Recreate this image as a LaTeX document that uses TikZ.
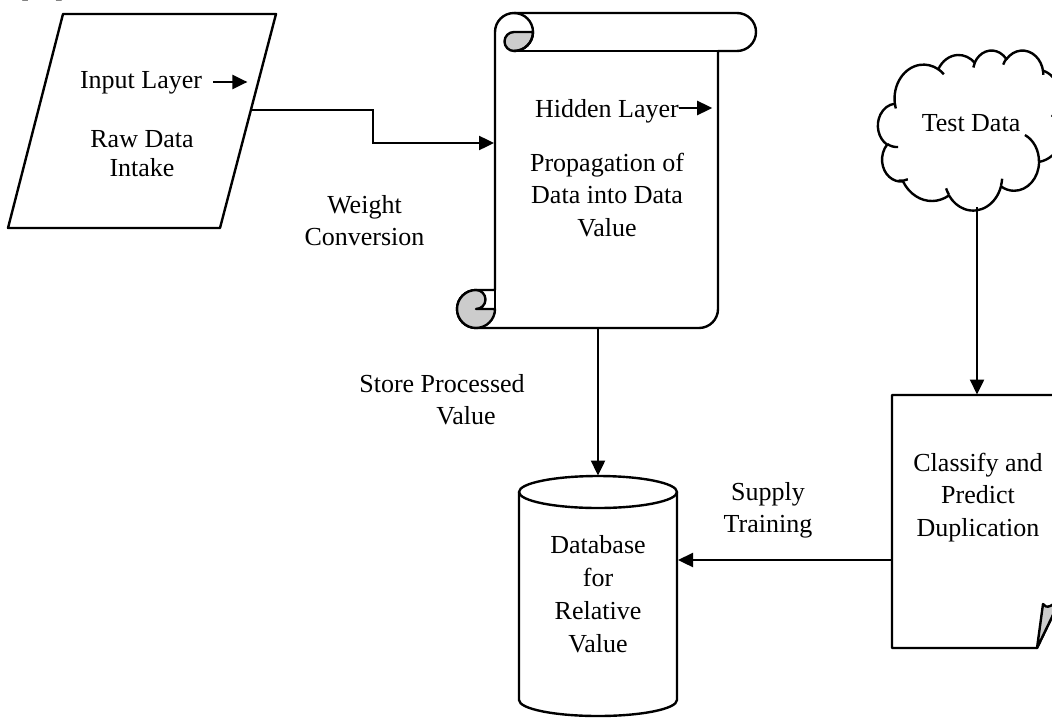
\documentclass[tikz,border=0pt]{standalone}
\usepackage{fontspec}
\setmainfont{Liberation Serif}
\usetikzlibrary{arrows.meta}
\definecolor{curl}{gray}{0.8}
\begin{document}
\begin{tikzpicture}[x=0.5pt, y=-0.5pt,
  shape line/.style={line width=1.2pt, line join=round},
  conn/.style={line width=1.2pt, -{Triangle[length=7.5pt,width=7pt]}},
  txt/.style={inner sep=0pt, align=center, font=\fontsize{13}{#1}\selectfont},
  txt/.default=15pt,
  % elliptic arc given by radii and start/sweep measured as visual angles
  oarc/.style args={#1/#2/#3/#4}{x radius=#1pt, y radius=#2pt,
    start angle={atan2(#1*sin(#3),#2*cos(#3))},
    delta angle={mod(atan2(#1*sin(#3+#4),#2*cos(#3+#4))-atan2(#1*sin(#3),#2*cos(#3))+720,360)}}]
\useasboundingbox (0,0) rectangle (1052,717);

% citation mark at the top edge
\node[inner sep=0pt, anchor=base west, font=\fontsize{13}{15}\selectfont] (cite) at (20,-2.5) {[\phantom{00}]};

% ---------- input parallelogram ----------
\draw[shape line, fill=white] (63,14) -- (276,14) -- (220,228) -- (8,228) -- cycle;
\coordinate (inpR) at (251.3,110);

% ---------- hidden layer scroll ----------
\draw[shape line, fill=white]
  (476,328) -- (699,328) arc[start angle=270, end angle=360, radius=9.5pt]
  -- (718,51) -- (737,51) arc[start angle=-90, end angle=90, radius=9.5pt]
  -- (514,13) arc[start angle=90, end angle=180, radius=9.5pt]
  -- (495,290) -- (476,290) arc[start angle=90, end angle=270, radius=9.5pt] -- cycle;
\draw[shape line, fill=curl] (514,32) -- (533,32) arc[start angle=0, end angle=-90, radius=9.5pt]
  arc[start angle=270, end angle=90, radius=4.75pt] -- cycle;
\draw[shape line] (514,13) arc[start angle=90, end angle=-90, radius=9.5pt];
\draw[shape line] (514,51) -- (718,51);
\draw[shape line, fill=curl] (476,290) arc[start angle=90, end angle=360, radius=9.5pt]
  -- (476,309) arc[start angle=270, end angle=450, radius=4.75pt] -- cycle;
\draw[shape line] (495,290) -- (495,309);
\coordinate (scrL) at (494,143);
\coordinate (scrB) at (598,328);

% ---------- database cylinder ----------
\draw[shape line, fill=white] (519,492) -- (519,700)
  arc[start angle=180, end angle=360, x radius=39.5pt, y radius=8pt] -- (677,492);
\draw[shape line] (598,492) ellipse[x radius=39.5pt, y radius=8pt];
\coordinate (dbT) at (598,475.5);
\coordinate (dbR) at (678,560);

% ---------- test data cloud ----------
\begin{scope}[shift={(878,50)}, xscale=0.21528, yscale=-0.18519]
  \draw[shape line, fill=white] (39pt,143.7pt)
    \foreach \wr/\hr/\st/\sw in {67.53/91.90/-190.487/123.781, 53.33/72.67/-144.102/89.945,
      43.65/59.45/-145.808/99.723, 48.57/65.95/-130.986/117.242, 53.33/72.73/-78.709/109.027,
      67.75/92.20/-46.267/130.269, 57.85/78.67/0.625/114.033, 67.52/92.15/22.452/115.173,
      77.20/105.43/66.243/75.711, 43.60/59.18/-274.942/146.736, 43.45/59.45/-246.829/152.519}
    { arc[oarc=\wr/\hr/\st/\sw] } -- cycle;
  \draw[shape line]
    \foreach \cx/\cy/\wr/\hr/\st/\sw in {46.93/261.77/43.45/59.45/86.742/26.430,
      69.28/348.99/43.60/59.18/73.616/21.335, 164.78/390.90/67.52/92.15/137.624/14.081,
      288.27/347.51/67.52/92.15/6.453/15.998, 341.29/229.54/57.85/78.67/-70.292/70.917,
      417.98/153.54/53.33/72.73/30.318/27.752, 383.24/54.26/48.57/65.95/-13.744/14.859,
      290.78/39.52/48.57/65.95/-149.181/18.195, 221.41/47.20/43.65/59.45/-163.494/17.686,
      140.00/51.92/67.53/91.90/-66.707/12.319, 41.27/157.89/67.53/91.90/157.654/11.858}
    { (\cx pt,\cy pt) arc[oarc=\wr/\hr/\st/\sw] };
\end{scope}
\coordinate (cldB) at (977,207);

% ---------- classification document with folded corner ----------
\draw[shape line, fill=white] (892,395) -- (1064,395) -- (1064,592) -- (1037,648) -- (892,648) -- cycle;
\draw[shape line, fill=curl] (1037,648) -- (1043,604) .. controls (1046,609) and (1053,608) .. (1064,592) -- cycle;
\coordinate (docT) at (977,394.5);
\coordinate (docL) at (892,560);

% ---------- connectors ----------
\coordinate (bend) at (373,143);
\draw[conn] (inpR) -| (bend) -- (scrL);
\draw[conn] (scrB) -- (dbT);
\draw[conn] (cldB) -- (docT);
\draw[conn] (docL) -- (dbR);

% ---------- labels ----------
\node[txt] (inlbl) at (141,83) {\strut Input Layer};
\draw[conn] ([xshift=5.5pt,yshift=0.5pt]inlbl.east) -- ++(34,0);
\node[txt=14.5pt] (rawlbl) at (142,155.7) {\strut Raw Data\\\strut Intake};

\node[txt] (hidlbl) at (607,111) {\strut Hidden Layer};
\draw[conn] ([yshift=1.5pt]hidlbl.east) -- ++(33,0);
\node[txt=16.25pt] (proplbl) at (607,197) {\strut Propagation of\\\strut Data into Data\\\strut Value};

\node[txt=16pt] (wlbl) at (364.5,222.6) {\strut Weight\\\strut Conversion};
\node[txt] (storelbl) at (442,386) {\strut Store Processed};
\node[txt] (storelbl2) at (466,418) {\strut Value};
\node[txt=16pt] (supplbl) at (768,509.6) {\strut Supply\\\strut Training};

\node[txt=16.5pt] (dblbl) at (598,596) {\strut Database\\\strut for\\\strut Relative\\\strut Value};
\node[txt] (testlbl) at (971,125) {\strut Test Data};
\node[txt=16.25pt] (doclbl) at (978,497) {\strut Classify and\\\strut Predict\\\strut Duplication};
\end{tikzpicture}
\end{document}
